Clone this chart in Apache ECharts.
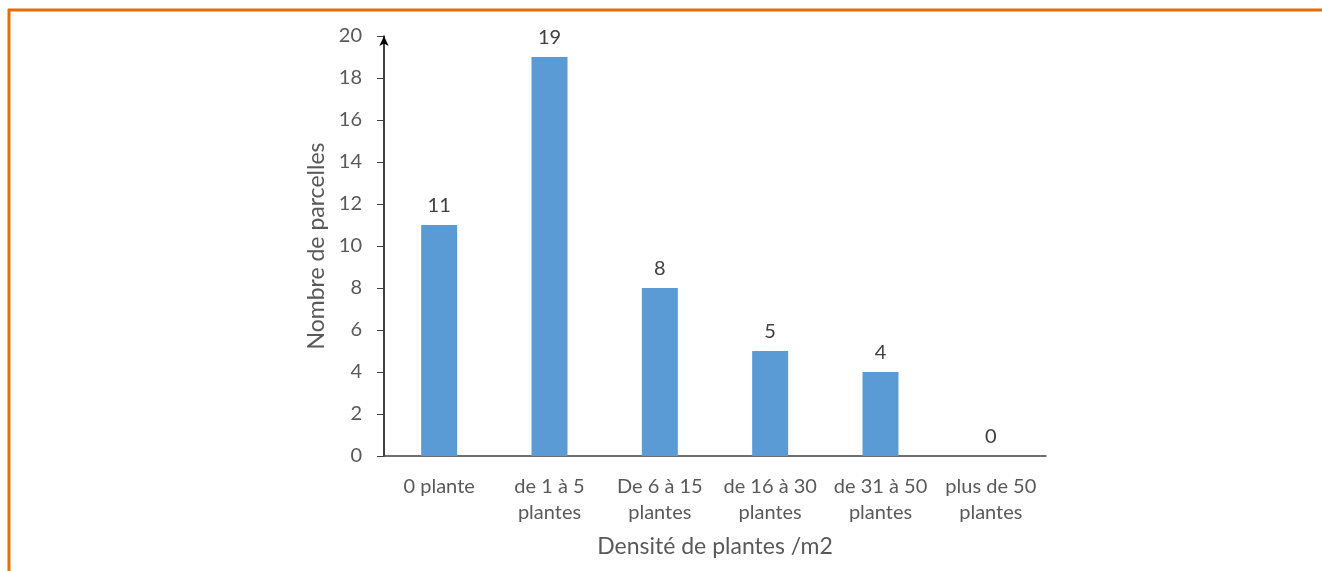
<!DOCTYPE html>
<html><head><meta charset="utf-8">
<script src="https://cdn.jsdelivr.net/npm/echarts@6/dist/echarts.min.js"></script>
<style>html,body{margin:0;padding:0;background:#fff;}#c{width:1322px;height:571px;}</style>
</head><body><div id="c"></div>
<script>
const categories = ['0 plante', 'de 1 à 5\nplantes', 'De 6 à 15\nplantes', 'de 16 à 30\nplantes', 'de 31 à 50\nplantes', 'plus de 50\nplantes'];
const values = [11, 19, 8, 5, 4, 0];
const yTicks = {min: 0, max: 20, interval: 2};
const xName = 'Densité de plantes /m2';
const yName = 'Nombre de parcelles';

const font = 'Lato, "Open Sans", sans-serif';
const chart = echarts.init(document.getElementById('c'), null, {renderer: 'canvas'});
chart.setOption({
  animation: false,
  backgroundColor: '#fff',
  textStyle: {fontFamily: font},
  grid: {left: 384, right: 276, top: 36, bottom: 115, containLabel: false},
  graphic: [
    {type: 'line', shape: {x1: 8, y1: 10, x2: 1322, y2: 10}, style: {stroke: '#E46C0A', lineWidth: 3}},
    {type: 'line', shape: {x1: 9, y1: 9, x2: 9, y2: 571}, style: {stroke: '#E46C0A', lineWidth: 3}}
  ],
  xAxis: {
    type: 'category',
    data: categories,
    name: xName,
    nameLocation: 'middle',
    nameGap: 79,
    nameTextStyle: {fontSize: 23, color: '#595959', fontFamily: font},
    axisLine: {show: true, lineStyle: {color: '#404040', width: 1.5}},
    axisTick: {show: false},
    axisLabel: {fontSize: 20, color: '#595959', margin: 18, lineHeight: 26, interval: 0, fontFamily: font}
  },
  yAxis: {
    type: 'value',
    min: yTicks.min, max: yTicks.max, interval: yTicks.interval,
    name: yName,
    nameLocation: 'middle',
    nameGap: 50,
    nameTextStyle: {fontSize: 23, color: '#595959', fontFamily: font},
    splitLine: {show: false},
    axisLine: {show: true, lineStyle: {color: '#000', width: 1.5}, symbol: ['none', 'arrow'], symbolSize: [7, 10], symbolOffset: [0, 0]},
    axisTick: {show: true, length: 7, lineStyle: {color: '#404040'}},
    axisLabel: {fontSize: 20, color: '#595959', margin: 22, fontFamily: font}
  },
  series: [{
    type: 'bar',
    data: values,
    barWidth: 36,
    itemStyle: {color: '#5B9BD5'},
    label: {show: true, position: 'top', distance: 9, fontSize: 20, color: '#404040', fontFamily: font}
  }]
});
</script></body></html>
